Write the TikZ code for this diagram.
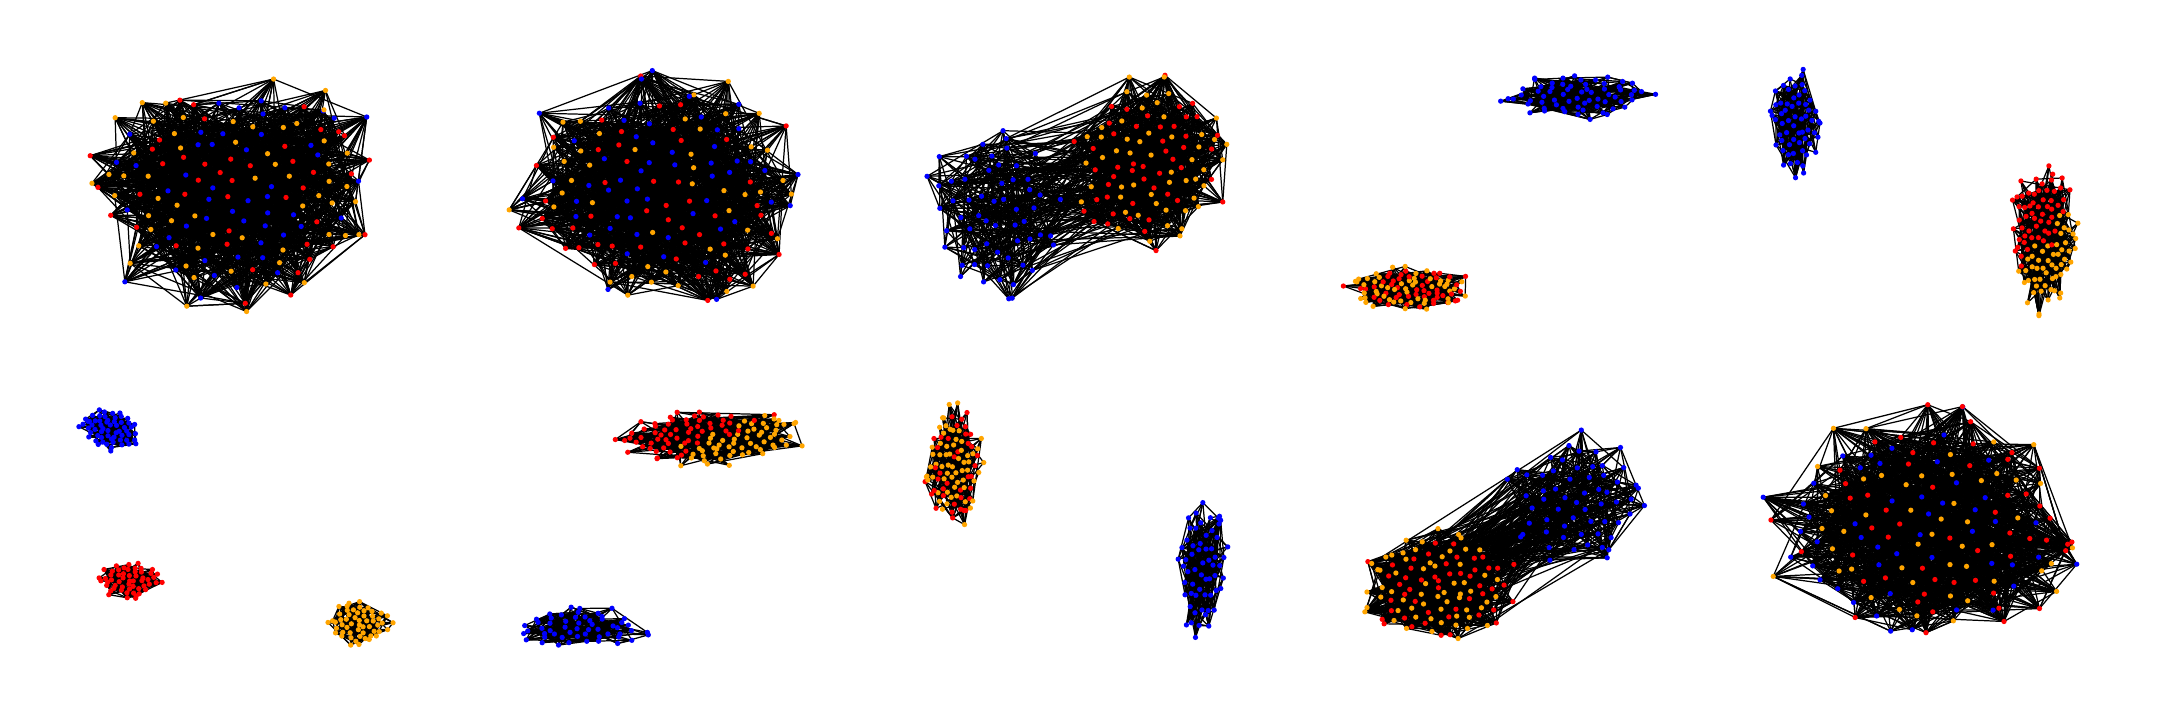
\documentclass[tikz,border=0pt]{standalone}
\definecolor{nblue}{RGB}{0,0,255}
\definecolor{nred}{RGB}{255,0,0}
\definecolor{norange}{RGB}{255,165,0}
\tikzset{
  edgeline/.style={black, line width=0.35pt}
}
% #1 prefix, #2 cx, #3 cy, #4 rx, #5 ry, #6 N, #7 mode, #8 coef
\newcommand{\gpoints}[8]{%
  \pgfmathtruncatemacro{\gNc}{0.82*#6}%
  \pgfmathsetmacro{\gJ}{0.9/sqrt(\gNc)}%
  \foreach \i in {1,...,#6}{%
    \ifnum\i>\gNc\relax
      \pgfmathsetmacro{\gA}{rnd*360}%
      \pgfmathsetmacro{\gR}{1.02+0.24*rnd}%
    \else
      \pgfmathsetmacro{\gA}{360*frac(\i*0.381966)}%
      \pgfmathsetmacro{\gR}{sqrt((\i-0.5)/\gNc)}%
    \fi
    \pgfmathsetmacro{\gX}{\gR*cos(\gA)+\gJ*(rnd-0.5)}%
    \pgfmathsetmacro{\gY}{\gR*sin(\gA)+\gJ*(rnd-0.5)}%
    \coordinate (#1-\i) at ({#2+#4*\gX},{#3+#5*\gY});%
    \ifcase#7 \def\gK{0}\or \def\gK{1}\or \def\gK{2}\or
      \pgfmathtruncatemacro{\gK}{rnd<0.5 ? 1 : 2}\or
      \pgfmathtruncatemacro{\gK}{random(0,2)}\or
      \pgfmathtruncatemacro{\gK}{\gY+#8*\gX+0.6*(rnd-0.5)<0.05 ? 1 : 2}\fi
    \expandafter\xdef\csname gc@#1@\i\endcsname{\gK}%
  }%
}
% #1 prefix, #2 N, #3 E
\newcommand{\gedges}[3]{%
  \foreach \k in {1,...,#3}{%
    \pgfmathrandominteger{\ga}{1}{#2}%
    \pgfmathrandominteger{\gb}{1}{#2}%
    \draw[edgeline] (#1-\ga) -- (#1-\gb);%
  }%
}
% #1 prefix1, #2 N1, #3 prefix2, #4 N2, #5 E
\newcommand{\ginter}[5]{%
  \foreach \k in {1,...,#5}{%
    \pgfmathrandominteger{\ga}{1}{#2}%
    \pgfmathrandominteger{\gb}{1}{#4}%
    \draw[edgeline] (#1-\ga) -- (#3-\gb);%
  }%
}
% #1 prefix, #2 N
\newcommand{\gdots}[2]{%
  \foreach \i in {1,...,#2}{%
    \edef\gK{\csname gc@#1@\i\endcsname}%
    \ifcase\gK\relax \def\gC{nblue}\or \def\gC{nred}\or \def\gC{norange}\fi
    \fill[\gC] (#1-\i) circle[radius=0.75pt];%
  }%
}
% full cluster
\newcommand{\gclust}[9]{%
  \gpoints{#1}{#2}{#3}{#4}{#5}{#6}{#8}{#9}%
  \gedges{#1}{#6}{#7}%
  \gdots{#1}{#6}%
}
\begin{document}
\begin{tikzpicture}[x=0.01cm,y=-0.01cm]
\pgfmathsetseed{4242}
\useasboundingbox (0,0) rectangle (2160,720);
% top row
\gclust{A}{236}{192}{128}{98}{150}{1500}{4}{0}
\gclust{B}{657}{192}{126}{96}{150}{1500}{4}{0}
% panel 3 top: two communities
\gpoints{Cb}{991}{216}{56}{76}{60}{0}{0}
\gpoints{Cr}{1150}{163}{68}{72}{100}{3}{0}
\gedges{Cb}{60}{260}
\gedges{Cr}{100}{800}
\ginter{Cb}{60}{Cr}{100}{180}
\gdots{Cb}{60}
\gdots{Cr}{100}
% panel 4 top
\gclust{D}{1578}{96}{64}{19}{65}{300}{0}{0}
\gclust{E}{1410}{288}{55}{18}{100}{350}{3}{0}
% panel 5 top
\gclust{F}{1795}{124}{22}{47}{60}{250}{0}{0}
\gclust{G}{2044}{238}{28}{62}{110}{400}{5}{0.5}
% bottom row
\gclust{H}{111}{429}{26}{18}{60}{220}{0}{0}
\gclust{I}{130}{579}{28}{16}{55}{200}{1}{0}
\gclust{J}{360}{624}{28}{18}{55}{200}{2}{0}
\gclust{K}{712}{437}{80}{23}{120}{450}{5}{1.6}
\gclust{L}{578}{627}{62}{16}{55}{220}{0}{0}
\gclust{M}{954}{465}{25}{50}{100}{350}{3}{0}
\gclust{N}{1202}{572}{22}{58}{60}{250}{0}{0}
% panel 4 bottom: two communities
\gpoints{Or}{1440}{587}{65}{48}{110}{3}{0}
\gpoints{Ob}{1580}{500}{60}{55}{60}{0}{0}
\gedges{Or}{110}{900}
\gedges{Ob}{60}{260}
\ginter{Or}{110}{Ob}{60}{200}
\gdots{Or}{110}
\gdots{Ob}{60}
% panel 5 bottom
\gclust{P}{1923}{527}{132}{98}{150}{1500}{4}{0}
\end{tikzpicture}
\end{document}
